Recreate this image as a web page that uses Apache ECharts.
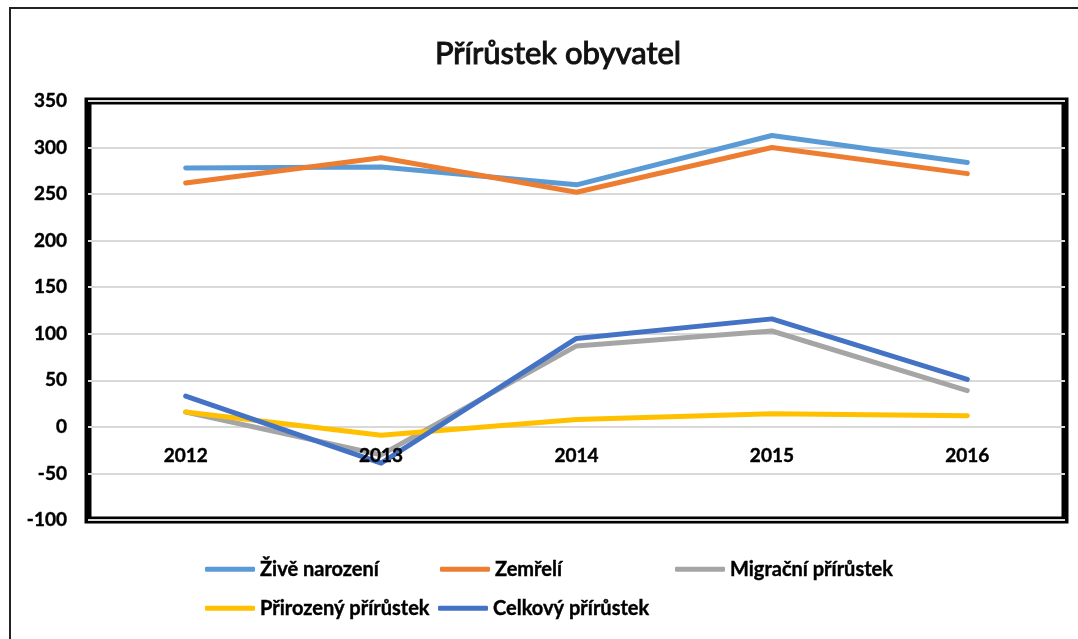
<!DOCTYPE html>
<html>
<head>
<meta charset="utf-8">
<script src="https://cdn.jsdelivr.net/npm/echarts@6/dist/echarts.min.js"></script>
<style>
html,body{margin:0;padding:0;background:#fff;}
#chart{width:1078px;height:639px;}
</style>
</head>
<body>
<div id="chart"></div>
<script>
const years = ['2012', '2013', '2014', '2015', '2016'];
const ziveNarozeni = [278, 279, 260, 313, 284];
const zemreli = [262, 289, 252, 300, 272];
const migracniPrirustek = [16, -30, 87, 103, 39];
const prirozenyPrirustek = [16, -9, 8, 14, 12];
const celkovyPrirustek = [33, -39, 95, 116, 51];
const seriesNames = ['Živě narození', 'Zemřelí', 'Migrační přírůstek', 'Přirozený přírůstek', 'Celkový přírůstek'];
const seriesValues = [ziveNarozeni, zemreli, migracniPrirustek, prirozenyPrirustek, celkovyPrirustek];
const colors = ['#5B9BD5', '#ED7D31', '#A5A5A5', '#FFC000', '#4472C4'];

const FONT = 'Lato';
const chart = echarts.init(document.getElementById('chart'));

const legendPos = [
  {left: 205, top: 559},
  {left: 440, top: 559},
  {left: 675, top: 559},
  {left: 205, top: 598},
  {left: 438, top: 598}
];

const option = {
  backgroundColor: '#fff',
  animation: false,
  color: colors,
  title: {
    text: 'Přírůstek obyvatel',
    left: 553,
    textAlign: 'center',
    top: 33,
    textStyle: {fontFamily: FONT, fontSize: 31, fontWeight: 'normal', color: '#111',
      textBorderColor: '#222', textBorderWidth: 1.1}
  },
  graphic: [{
    type: 'rect',
    shape: {x: 10, y: 8, width: 1200, height: 800},
    style: {fill: 'none', stroke: '#222', lineWidth: 2},
    silent: true, z: 100
  }],
  legend: seriesNames.map((n, i) => ({
    data: [n],
    left: legendPos[i].left,
    top: legendPos[i].top,
    padding: 0,
    icon: 'roundRect',
    itemWidth: 50,
    itemHeight: 5,
    textStyle: {fontFamily: FONT, fontSize: 20, fontWeight: 'bold', color: '#000',
      textBorderColor: '#000', textBorderWidth: 0.4}
  })),
  grid: {
    left: 88, right: 13, top: 101, bottom: 119,
    show: true, borderColor: '#000', borderWidth: 7, backgroundColor: '#fff'
  },
  xAxis: {
    type: 'category',
    data: years,
    boundaryGap: true,
    offset: -93,
    z: 20,
    axisLine: {show: false, onZero: false},
    axisTick: {show: false},
    axisLabel: {fontFamily: FONT, fontSize: 19, fontWeight: 'bold', color: '#000', margin: 19,
      textBorderColor: '#000', textBorderWidth: 0.4},
    splitLine: {show: false}
  },
  yAxis: {
    type: 'value',
    min: -100, max: 350, interval: 50,
    axisLine: {show: false},
    axisTick: {show: false},
    axisLabel: {fontFamily: FONT, fontSize: 19, fontWeight: 'bold', color: '#000', margin: 21,
      textBorderColor: '#000', textBorderWidth: 0.4},
    splitLine: {show: true, lineStyle: {color: '#d9d9d9', width: 2}}
  },
  series: seriesNames.map((n, i) => ({
    name: n,
    type: 'line',
    data: seriesValues[i],
    symbol: 'none',
    lineStyle: {width: 5, color: colors[i], cap: 'round', join: 'round'},
    itemStyle: {color: colors[i]},
    z: 2 + i
  }))
};
chart.setOption(option);
</script>
</body>
</html>
